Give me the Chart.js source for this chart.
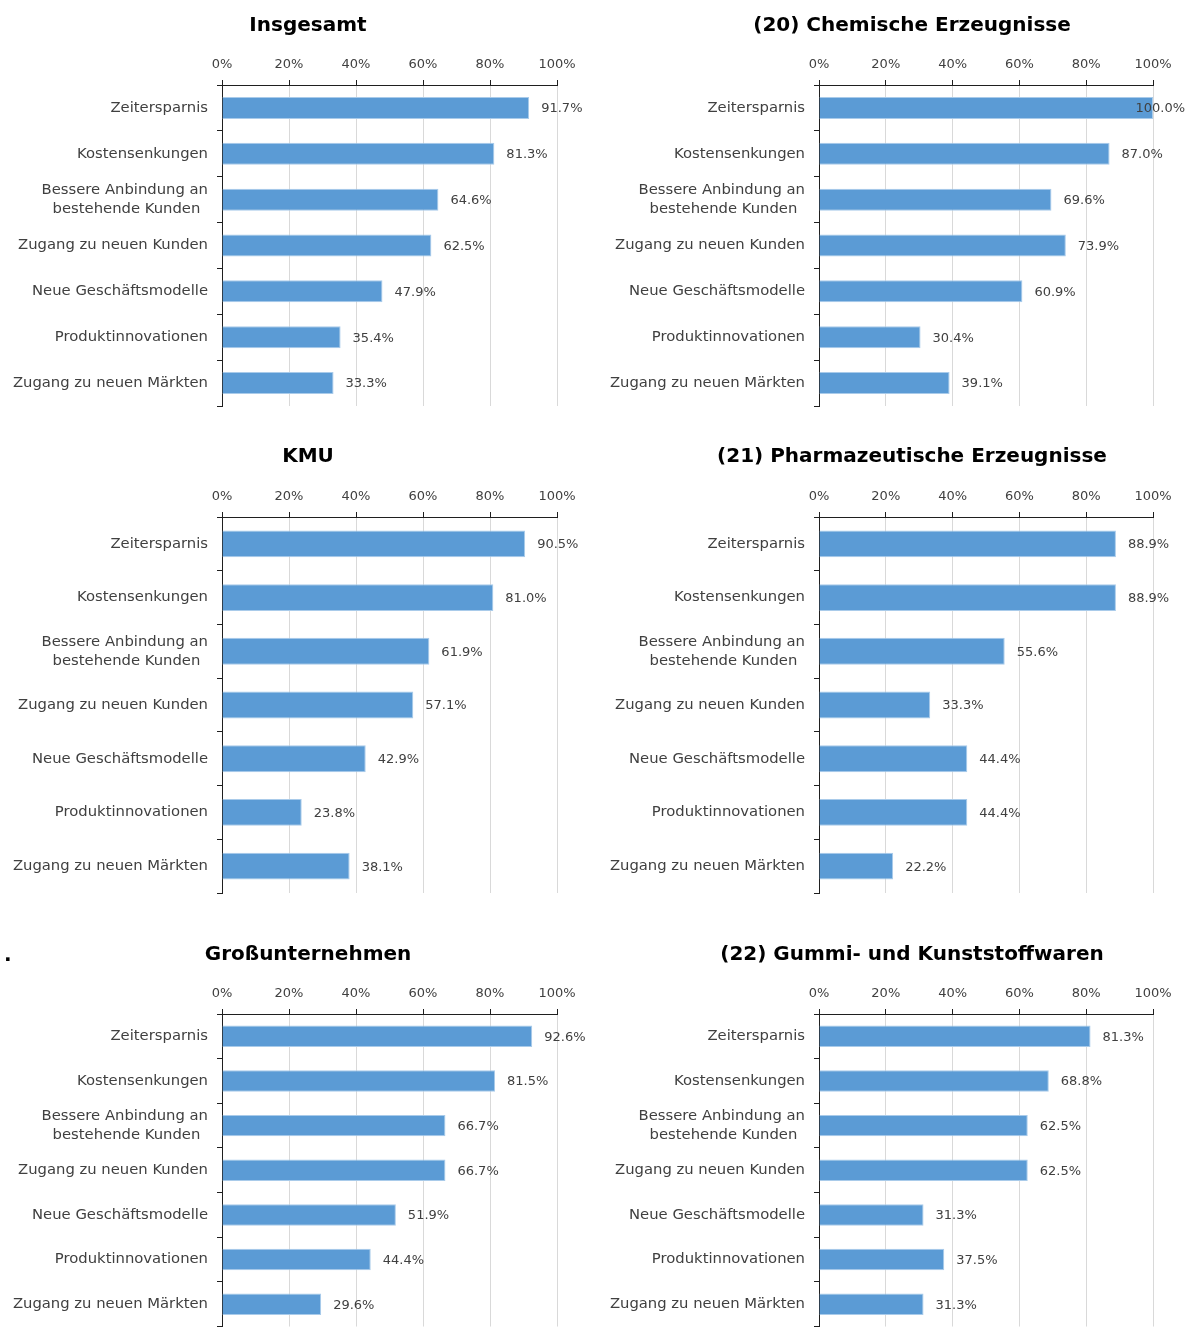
<!DOCTYPE html>
<html>
<head>
<meta charset="utf-8">
<script src="https://cdn.jsdelivr.net/npm/chart.js@4.4.1/dist/chart.umd.min.js"></script>
<style>
  html, body { margin: 0; padding: 0; background: #fff; overflow: hidden; width: 1187px; height: 1333px; }
  #page { position: relative; width: 1187px; height: 1333px; overflow: hidden; background: #fff; }
  .panel { position: absolute; }
  .stray { position: absolute; left: 4px; top: 944px; font: bold 20px "DejaVu Sans", sans-serif; line-height: 20px; color: #000; }
</style>
</head>
<body>
<div id="page">
  <div class="panel" style="left:0;top:0;width:597px;height:430px"><canvas id="cInsgesamt"></canvas></div>
  <div class="panel" style="left:597px;top:0;width:590px;height:430px"><canvas id="cChemie"></canvas></div>
  <div class="panel" style="left:0;top:430px;width:597px;height:485px"><canvas id="cKMU"></canvas></div>
  <div class="panel" style="left:597px;top:430px;width:590px;height:485px"><canvas id="cPharma"></canvas></div>
  <div class="panel" style="left:0;top:915px;width:597px;height:430px"><canvas id="cGross"></canvas></div>
  <div class="panel" style="left:597px;top:915px;width:590px;height:430px"><canvas id="cGummi"></canvas></div>
  <div class="stray">.</div>
</div>
<script>
// Motive (categories) shared by all six panels
const categories = [
  'Zeitersparnis',
  'Kostensenkungen',
  ['Bessere Anbindung an', 'bestehende Kunden\u00a0\u2009'],
  'Zugang zu neuen Kunden',
  'Neue Geschäftsmodelle',
  'Produktinnovationen',
  'Zugang zu neuen Märkten'
];

// Shares in percent per group
const valuesInsgesamt = [91.7, 81.3, 64.6, 62.5, 47.9, 35.4, 33.3];
const valuesChemie    = [100.0, 87.0, 69.6, 73.9, 60.9, 30.4, 39.1];
const valuesKMU       = [90.5, 81.0, 61.9, 57.1, 42.9, 23.8, 38.1];
const valuesPharma    = [88.9, 88.9, 55.6, 33.3, 44.4, 44.4, 22.2];
const valuesGross     = [92.6, 81.5, 66.7, 66.7, 51.9, 44.4, 29.6];
const valuesGummi     = [81.3, 68.8, 62.5, 62.5, 31.3, 37.5, 31.3];

// Axis ticks (percent)
const tickValues = [0, 20, 40, 60, 80, 100];

const FONT = '"DejaVu Sans", sans-serif';
const TEXT = '#404040';
const AXIS = '#1f1f1f';
const BAR = '#5b9bd5';
const BAR_EDGE = '#a9cbea';

Chart.defaults.font.family = FONT;

// Writes the value right of each bar, kept inside the canvas
const valueLabels = {
  id: 'valueLabels',
  afterDatasetsDraw(chart) {
    const ctx = chart.ctx;
    const meta = chart.getDatasetMeta(0);
    const data = chart.data.datasets[0].data;
    ctx.save();
    ctx.font = '13px ' + FONT;
    ctx.fillStyle = TEXT;
    ctx.textAlign = 'left';
    ctx.textBaseline = 'middle';
    meta.data.forEach((bar, i) => {
      const txt = data[i].toFixed(1) + '%';
      const w = ctx.measureText(txt).width;
      const x = Math.min(bar.x + 12, chart.width - w - 2);
      ctx.fillText(txt, x, bar.y + 1);
    });
    ctx.restore();
  }
};

// Panel heading, centred on a given x
const panelTitle = {
  id: 'panelTitle',
  afterDraw(chart, args, opts) {
    const ctx = chart.ctx;
    ctx.save();
    ctx.font = 'bold 20px ' + FONT;
    ctx.fillStyle = '#000';
    ctx.textAlign = 'center';
    ctx.textBaseline = 'middle';
    ctx.fillText(opts.text, opts.x, opts.y);
    ctx.restore();
  }
};

function makePanel(id, title, values, g) {
  new Chart(document.getElementById(id), {
    type: 'bar',
    data: {
      labels: categories,
      datasets: [{
        data: values,
        backgroundColor: BAR,
        borderColor: BAR_EDGE,
        borderWidth: 1,
        barPercentage: g.bar,
        categoryPercentage: 1
      }]
    },
    options: {
      indexAxis: 'y',
      responsive: true,
      maintainAspectRatio: false,
      animation: false,
      layout: { padding: { left: 0, right: g.padR, top: g.padT, bottom: g.padB } },
      plugins: {
        legend: { display: false },
        tooltip: { enabled: false },
        title: { display: false },
        panelTitle: { text: title, x: g.titleX, y: g.titleY }
      },
      scales: {
        x: {
          position: 'top',
          min: 0,
          max: 100,
          afterBuildTicks: s => { s.ticks = tickValues.map(v => ({ value: v })); },
          ticks: {
            callback: v => v + '%',
            color: TEXT,
            font: { size: 13, lineHeight: 1.2 },
            padding: 8,
            maxRotation: 0
          },
          grid: { color: '#d9d9d9', tickColor: AXIS, tickLength: 5, lineWidth: 1 },
          border: { color: AXIS, width: 1 },
          afterFit: s => { s.height = g.xH; }
        },
        y: {
          ticks: {
            color: TEXT,
            font: { size: 14.8, lineHeight: 1.28 },
            padding: 9,
            autoSkip: false
          },
          grid: { drawOnChartArea: false, color: AXIS, tickLength: 5 },
          border: { color: AXIS, width: 1 },
          afterFit: s => { s.width = 222; }
        }
      }
    },
    plugins: [valueLabels, panelTitle]
  });
}

const leftCol  = { padR: 40, titleX: 308 };
const rightCol = { padR: 34, titleX: 315 };
const row1 = { titleY: 26, padT: 40, xH: 45, padB: 24, bar: 0.48 };
const row2 = { titleY: 27, padT: 40, xH: 47, padB: 22, bar: 0.50 };
const row3 = { titleY: 40, padT: 50, xH: 49, padB: 10, bar: 0.48 };

makePanel('cInsgesamt', 'Insgesamt', valuesInsgesamt, Object.assign({}, leftCol, row1));
makePanel('cChemie', '(20) Chemische Erzeugnisse', valuesChemie, Object.assign({}, rightCol, row1));
makePanel('cKMU', 'KMU', valuesKMU, Object.assign({}, leftCol, row2));
makePanel('cPharma', '(21) Pharmazeutische Erzeugnisse', valuesPharma, Object.assign({}, rightCol, row2));
makePanel('cGross', 'Großunternehmen', valuesGross, Object.assign({}, leftCol, row3));
makePanel('cGummi', '(22) Gummi- und Kunststoffwaren', valuesGummi, Object.assign({}, rightCol, row3));
</script>
</body>
</html>
